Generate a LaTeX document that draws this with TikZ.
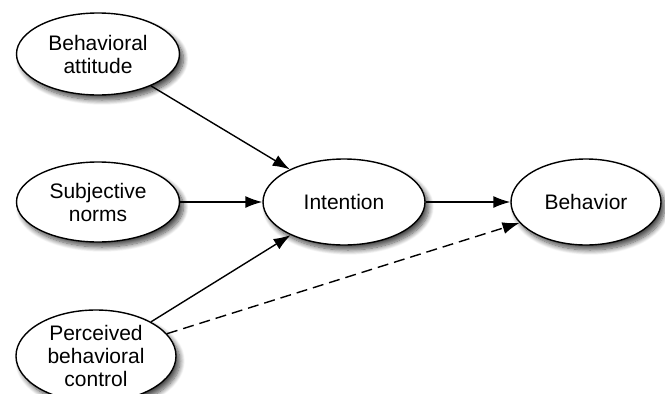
\documentclass[tikz,border=0pt]{standalone}
\usepackage{fontspec}
\setmainfont{Liberation Sans}
\usetikzlibrary{shapes.geometric,arrows.meta,shadows.blur}
\begin{document}
\begin{tikzpicture}[x=1pt,y=-1pt,
  ell/.style={ellipse,draw,line width=1.4pt,fill=white,inner sep=0pt,
    align=center,font=\fontsize{21}{23}\selectfont,
    blur shadow={shadow xshift=4pt,shadow yshift=-5pt,shadow blur steps=10,shadow blur radius=5pt,shadow opacity=70}},
  arr/.style={line width=1.4pt,-{Latex[length=17pt,width=12pt]}}]
\useasboundingbox (0,0) rectangle (665,394);
\node[ell,minimum width=163pt,minimum height=82pt] (att) at (98,54) {Behavioral\\attitude};
\node[ell,minimum width=163pt,minimum height=80pt] (norm) at (98,202) {Subjective\\norms};
\node[ell,minimum width=160pt,minimum height=92pt] (pbc) at (96,356) {Perceived\\behavioral\\control};
\node[ell,minimum width=162pt,minimum height=86pt] (int) at (344,202) {Intention};
\node[ell,minimum width=150pt,minimum height=86pt] (beh) at (586,202) {Behavior};
\draw[arr] (att) edge (int);
\draw[arr] (norm) edge (int);
\draw[arr] (pbc) edge (int);
\draw[arr] (int) edge (beh);
\draw[arr,dash pattern=on 11pt off 6pt] (pbc) edge (beh);
\end{tikzpicture}
\end{document}
